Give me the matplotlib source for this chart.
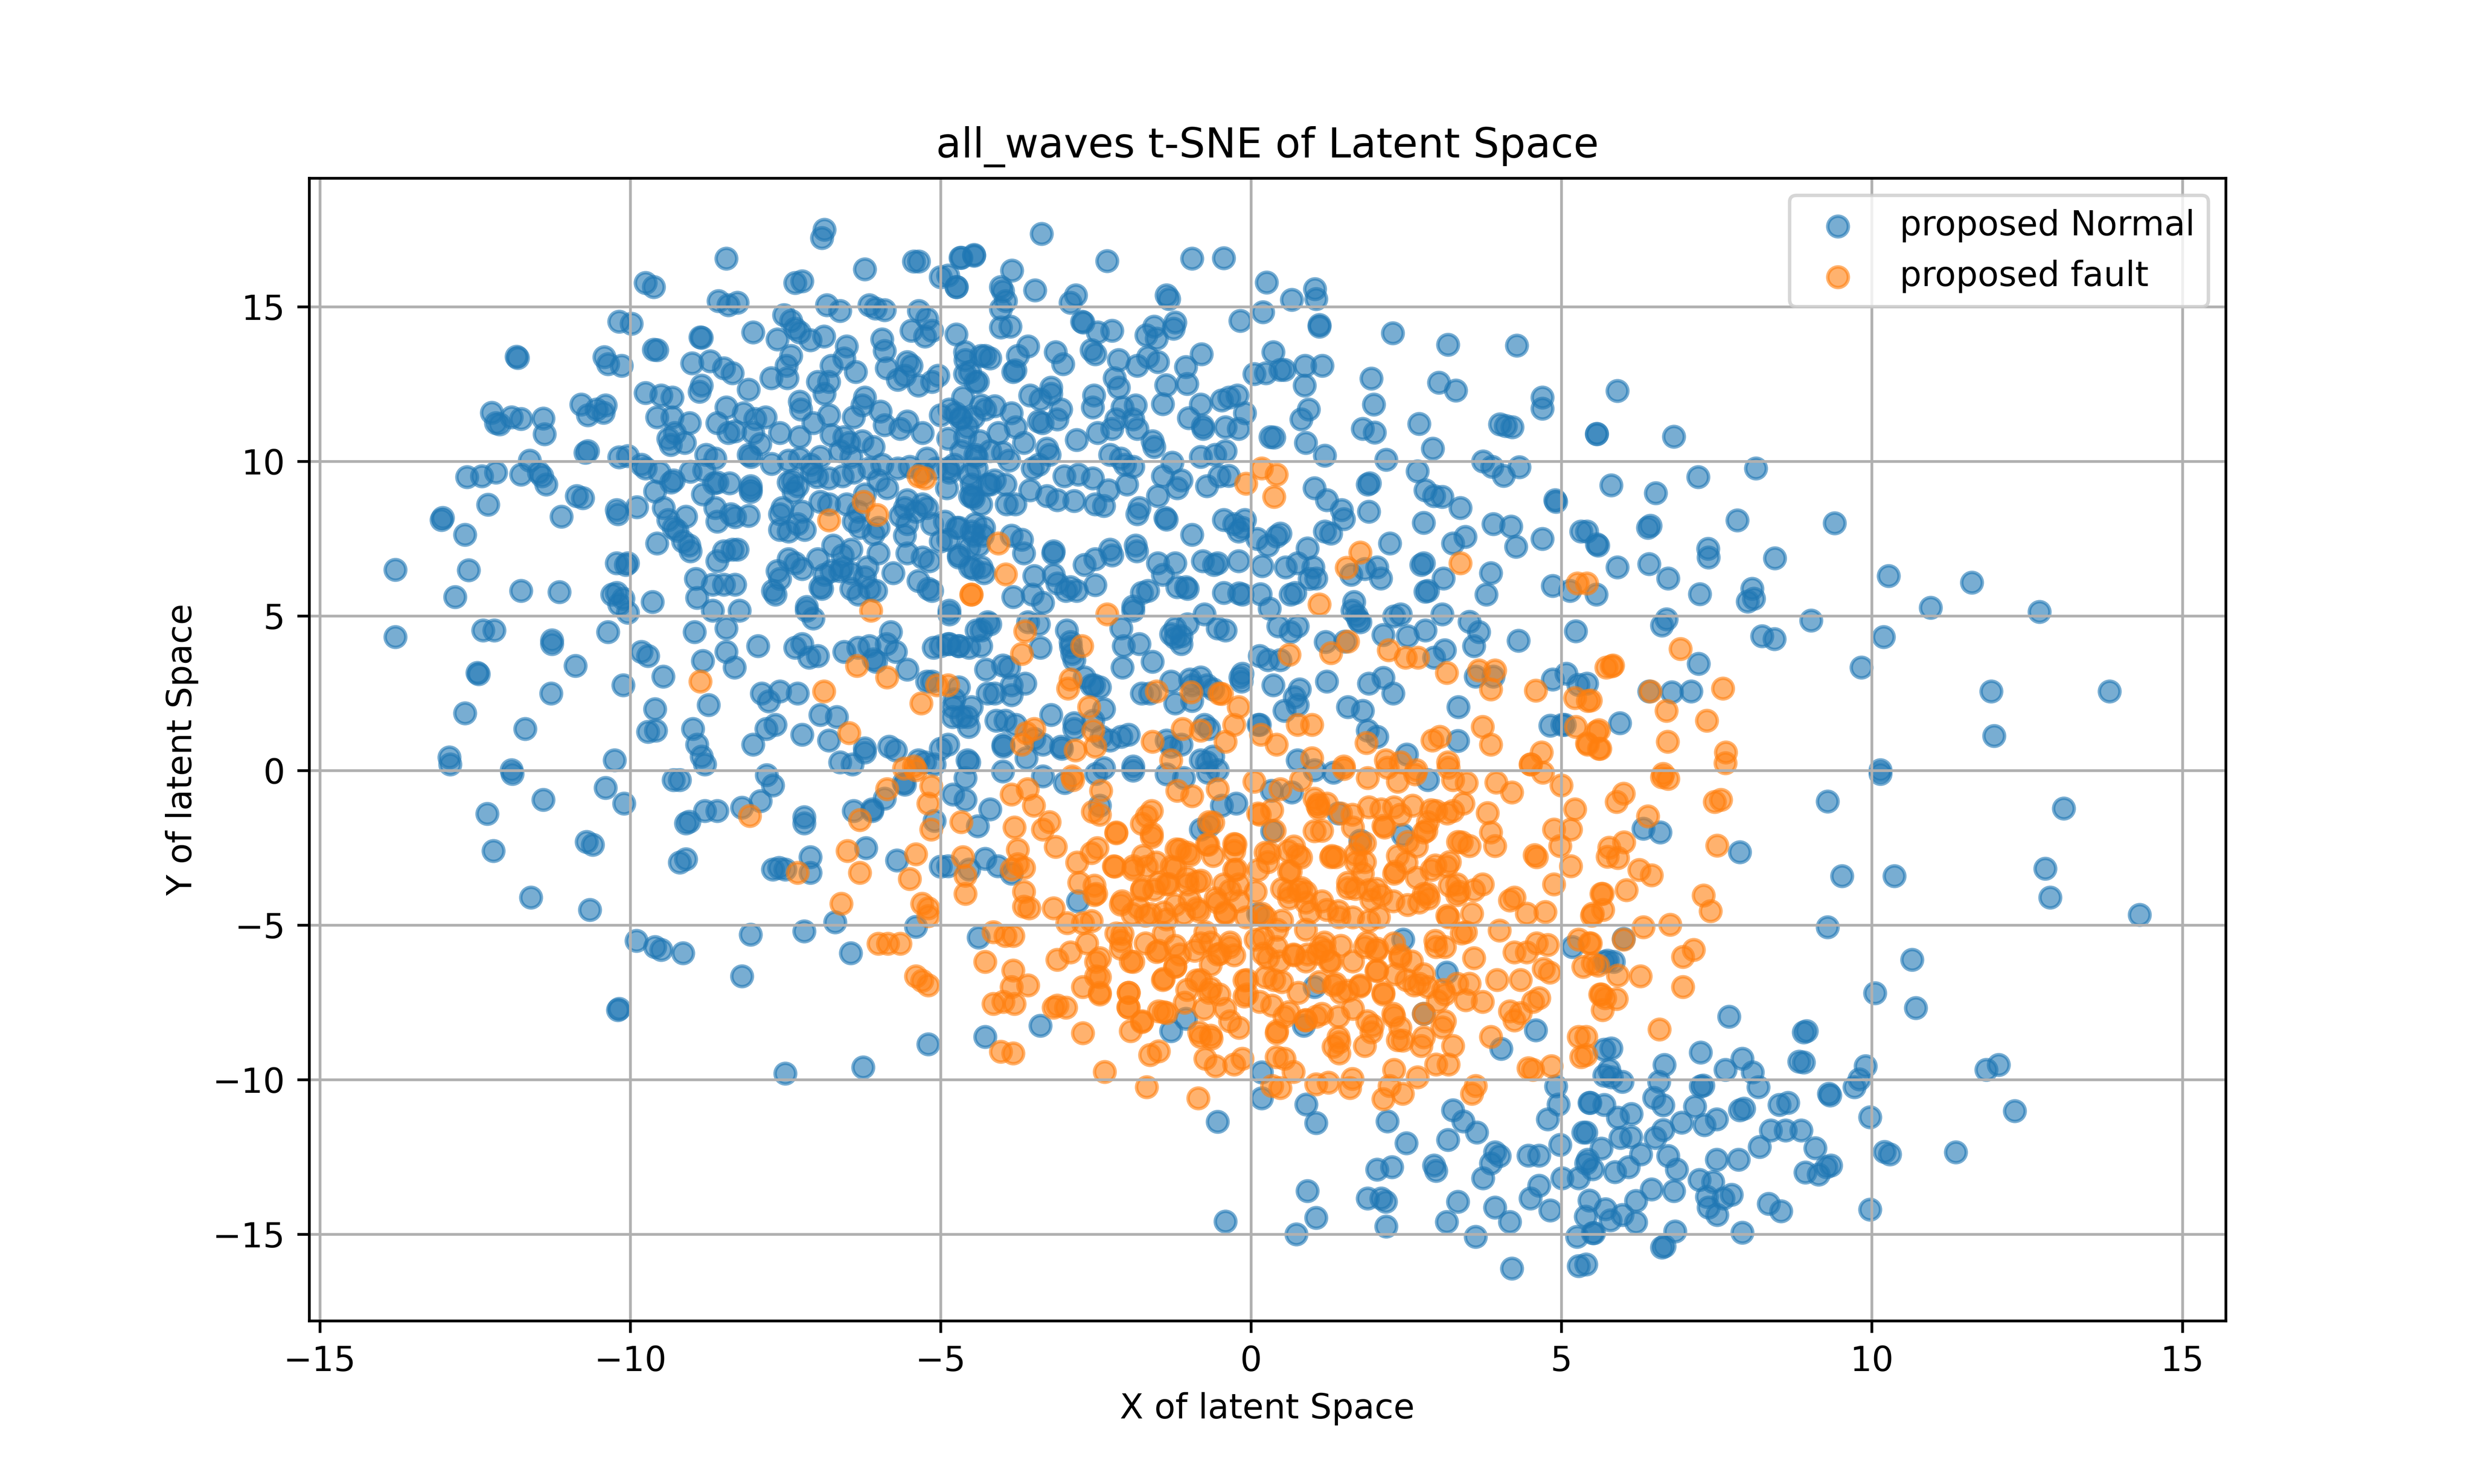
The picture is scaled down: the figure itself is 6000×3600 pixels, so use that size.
import numpy as np
import matplotlib
matplotlib.use('Agg')
import matplotlib.pyplot as plt

# t-SNE points, grouped by region of the plot
# "proposed Normal" (blue)
normal_upper_left = [
    (-6.87,17.49),(-6.91,17.23),(-8.45,16.56),(-9.75,15.77),(-9.62,15.64),(-7.23,15.83),(-7.34,15.77),
    (-6.22,16.21),(-5.43,16.47),(-5.35,16.47),(-5.0,15.96),(-4.75,15.64),(-4.68,16.59),(-4.46,16.68),
    (-8.58,15.19),(-8.42,15.06),(-8.27,15.13),(-10.18,14.52),(-9.98,14.45),(-6.83,15.06),(-6.62,14.87),
    (-6.15,15.06),(-5.9,14.9),(-6.05,14.95),(-5.35,14.87),(-5.47,14.23),(-5.14,14.23),(-5.25,14.04),
    (-4.75,14.11),(-5.22,14.62),(-7.52,14.74),(-7.41,14.55),(-7.34,14.3),(-7.27,14.17),(-8.02,14.17),
    (-7.63,13.95),(-7.1,13.92),(-6.88,14.04),(-5.94,13.95),(-5.9,13.57),(-5.87,13.02),(-8.87,14.02),
    (-8.85,14.0),(-10.42,13.37),(-10.36,13.15),(-10.14,13.09),(-11.83,13.38),(-11.81,13.35),(-9.62,13.62),
    (-9.57,13.6),(-9.0,13.18),(-8.71,13.24),(-8.49,13.02),(-8.35,12.86),(-7.41,13.41),(-7.48,13.09),
    (-7.73,12.7),(-7.47,12.7),(-6.51,13.72),(-6.55,13.34),(-6.37,12.9),(-6.76,13.09),(-6.98,12.58),
    (-6.8,12.58),(-6.87,12.19),(-8.09,12.32),(-5.54,13.21),(-5.47,13.1),(-5.58,12.77),(-5.69,12.64),
    (-5.36,12.45),(-5.04,12.77),(-5.14,12.58),(-4.6,13.28),(-4.53,12.9),(-4.44,12.58),(-4.28,13.41),
    (-8.88,12.26),(-8.85,12.45),(-9.75,12.22),(-9.5,12.13),(-9.32,12.07),(-10.79,11.84),(-10.54,11.68),
    (-10.4,11.81),(-10.43,11.58),(-10.68,11.49),(-12.23,11.58),(-12.16,11.24),(-11.91,11.43),(-11.76,11.37),
    (-11.4,11.39),(-11.38,10.88),(-12.1,11.2),(-9.57,11.43),(-9.32,11.43),(-9.04,11.24),(-9.28,10.92),
    (-9.39,10.73),(-9.35,10.54),(-9.12,10.6),(-8.6,11.24),(-8.45,11.75),(-8.17,11.56),(-7.99,11.37),
    (-7.82,11.43),(-8.31,10.98),(-8.42,10.92),(-8.02,10.92),(-7.91,10.56),(-7.59,10.92),(-7.27,11.94),
    (-7.25,11.68),(-7.05,11.24),(-6.8,11.49),(-6.76,10.85),(-6.55,10.79),(-6.4,11.43),(-6.26,11.81),
    (-6.22,12.07),(-5.97,11.62),(-5.9,11.17),(-5.65,11.05),(-5.54,11.3),(-5.29,10.92),(-5.0,11.49),
    (-4.86,11.68),(-4.68,11.37),(-4.57,11.11),(-4.35,11.81),(-6.47,10.6),(-6.26,10.66),(-6.08,10.47),
    (-6.62,10.34),(-6.44,10.15),(-7.27,10.79),(-7.27,10.09),(-7.09,9.9),(-6.94,10.15),(-7.45,10.03),
    (-8.09,10.22),(-8.05,10.15),(-8.78,10.22),(-8.63,10.09),(-10.04,10.18),(-10.18,10.13),(-10.72,10.28),
    (-10.68,10.33),(-9.82,9.9),(-9.75,9.77),(-9.53,9.64),(-9.3,9.39),(-9.03,9.67),(-8.81,9.71),(-8.6,9.32),
    (-8.4,9.29),(-8.06,9.2),(-8.06,9.01),(-7.72,9.92),(-7.45,9.32),(-7.38,9.38),(-7.3,9.2),(-7.07,9.64),
    (-6.99,9.49),(-6.8,9.45),(-6.58,9.52),(-6.4,9.64),(-6.15,9.77),(-5.94,9.9),(-5.69,9.77),(-5.5,9.83),
    (-5.29,9.64),(-5.07,9.77),(-4.86,9.64),(-4.78,9.9),(-4.42,10.15),(-4.42,9.77),(-5.22,10.09),(-4.5,9.26),
    (-4.24,9.26),(-12.63,9.49),(-12.39,9.52),(-12.16,9.64),(-11.76,9.58),(-11.62,10.03),(-11.47,9.64),
    (-11.42,9.52),(-11.35,9.26),
    (-13.04,8.11),(-13.02,8.17),(-12.66,7.63),(-12.29,8.6),(-12.6,6.48),(-13.78,6.49),(-13.78,4.32),
    (-12.82,5.62),(-11.76,5.82),(-11.14,5.78),(-12.37,4.54),(-12.19,4.54),(-11.26,4.22),(-11.26,4.1),
    (-12.46,3.16),(-12.44,3.12),(-10.88,3.39),(-11.27,2.5),(-12.66,1.86),(-11.69,1.35),(-12.91,0.43),
    (-11.91,0.01),(-11.11,8.21),(-10.86,8.88),(-10.76,8.81),(-10.22,8.43),(-10.2,8.3),(-9.89,8.52),
    (-9.6,9.03),(-9.34,9.32),(-9.46,8.49),(-9.39,8.11),(-9.1,8.21),(-9.24,7.76),(-9.15,7.41),(-9.3,7.85),
    (-9.57,7.35),(-9.03,7.09),(-9.05,7.28),(-8.83,8.94),(-8.65,9.3),(-8.63,8.49),(-8.6,8.05),(-8.38,8.3),
    (-8.31,8.2),(-8.09,8.24),(-8.06,9.1),(-8.6,6.77),(-8.49,7.09),(-8.35,7.15),(-8.27,7.15),(-10.22,6.71),
    (-10.07,6.65),(-10.04,6.71),(-10.29,5.69),(-10.22,5.75),(-10.11,5.56),(-10.18,5.37),(-10.04,5.11),
    (-9.64,5.46),(-10.36,4.48),(-9.82,3.84),(-9.71,3.71),(-9.47,3.04),(-10.11,2.76),(-9.6,1.99),
    (-9.71,1.26),(-9.59,1.29),(-10.25,0.33),(-8.94,6.2),(-8.92,5.59),(-8.67,6.01),(-8.49,6.01),(-8.31,6.01),
    (-8.67,5.18),(-8.24,5.18),(-8.45,4.6),(-8.96,4.48),(-8.83,3.55),(-8.45,3.84),(-8.32,3.33),(-7.94,4.03),
    (-7.88,2.5),(-7.77,2.24),(-7.59,2.56),(-7.3,2.5),(-8.74,2.12),(-8.99,1.35),(-8.92,0.84),(-8.85,0.46),
    (-8.02,0.84),(-7.81,1.35),(-7.66,1.48),(-7.23,1.16),(-6.94,1.8),(-6.67,1.73),(-6.8,0.97),(-6.62,0.27),
    (-6.42,0.2),(-6.22,0.59),(-6.22,0.72),(-5.83,0.78),(-5.72,0.65),(-5.0,0.71),(-4.57,0.33),(-5.36,0.33),
    (-5.25,0.27),(-4.57,1.73),(-4.78,2.31),(-4.71,2.69),(-4.8,2.05),(-6.55,3.84),(-6.33,3.97),(-6.15,4.03),
    (-6.08,3.6),(-6.04,3.52),(-5.54,3.27),(-5.22,2.88),(-5.14,2.88),(-5.11,3.97),(-5.0,4.03),(-4.86,4.1),
    (-4.71,4.03),(-4.35,4.03),(-4.42,4.54),(-4.24,4.8),(-4.86,5.18),(-4.86,5.05),(-4.24,2.5),(-5.72,3.84),
    (-5.87,4.09),(-5.8,4.48),(-5.2,5.88),(-5.14,5.82),(-5.36,6.13),(-5.76,6.39),(-6.04,5.82),(-6.15,5.88),
    (-6.22,6.26),(-6.33,5.69),(-6.44,6.39),(-6.58,6.58),(-6.62,6.45),(-6.44,5.88),(-6.76,6.45),(-6.87,6.33),
    (-7.16,5.18),(-7.05,4.92),(-6.94,5.94),(-6.91,5.88),(-7.16,5.3),(-7.34,3.97),(-7.23,4.09),(-7.12,3.65),
    (-6.98,3.71),(-7.45,6.84),(-7.59,6.2),(-7.7,5.82),(-7.66,5.69),(-7.63,6.45),(-7.34,6.71),(-7.23,6.52),
    (-6.98,6.84),(-6.44,7.15),(-6.73,7.28),(-6.58,6.96),(-6.0,7.03),(-6.18,6.58),(-5.58,7.6),(-5.54,7.03),
    (-5.29,6.9),(-5.18,6.77),(-5.0,7.41),(-4.71,6.96),(-4.53,6.58),(-4.39,7.28),(-4.32,7.6),(-4.5,7.73),
    (-4.71,7.86),(-4.93,8.05),(-5.22,8.49),(-5.29,8.62),(-5.54,8.75),(-5.58,8.49),(-5.65,8.24),(-5.4,8.37),
    (-5.54,7.98),(-5.14,7.98),(-4.9,9.13),(-4.53,8.88),(-4.35,8.62),(-6.94,8.69),(-6.8,8.62),(-6.51,8.62),
    (-6.33,8.37),(-6.4,8.05),(-6.3,7.86),(-6.08,7.66),(-6.0,7.86),(-6.22,8.94),(-6.0,9.39),(-5.86,9.13),
    (-7.37,9.01),(-7.23,8.37),(-7.19,7.79),(-7.3,7.98),(-7.59,8.3),(-7.55,8.49),(-7.45,7.73),(-7.59,7.79),
]

normal_upper_mid = [
    (-3.37,17.36),(-4.67,16.59),(-4.46,16.66),(-3.85,16.17),(-2.32,16.48),(-0.95,16.56),(-0.44,16.57),
    (-4.88,16.02),(-4.74,15.64),(-4.03,15.64),(-4.0,15.51),(-3.95,15.19),(-4.03,14.94),(-4.03,14.34),
    (-3.88,14.36),(-3.48,15.54),(-2.91,15.13),(-2.82,15.38),(-1.36,15.38),(-1.32,15.26),(-2.72,14.52),
    (-2.7,14.5),(-2.47,14.17),(-2.24,14.23),(-1.69,14.08),(-1.56,14.36),(-1.25,14.3),(-1.22,14.49),
    (-1.52,13.98),(-1.5,13.21),(-1.66,13.37),(-0.8,13.47),(-1.05,13.05),(-1.03,12.51),(-1.37,12.47),
    (-1.42,11.85),(-0.81,11.84),(-1.0,11.4),(-0.77,11.05),(-0.78,11.15),(-0.41,11.11),(-0.2,11.05),
    (-0.1,11.56),(-0.47,11.98),(-0.35,12.07),(-0.22,12.13),(-2.57,13.6),(-2.51,13.47),(-2.13,13.28),
    (-1.83,13.09),(-2.2,12.7),(-2.13,12.39),(-2.53,12.13),(-2.55,11.75),(-2.07,11.75),(-1.86,11.81),
    (-1.9,11.36),(-2.17,11.36),(-2.24,11.05),(-1.83,11.05),(-1.59,10.66),(-1.56,10.47),(-2.47,10.92),
    (-2.81,10.69),(-3.15,13.53),(-3.03,13.15),(-3.22,12.39),(-3.22,12.19),(-3.39,12.0),(-3.06,11.68),
    (-3.36,11.24),(-3.12,11.36),(-3.42,11.3),(-3.29,10.41),(-3.25,10.22),(-3.59,13.72),(-3.76,13.41),
    (-3.83,12.9),(-3.8,12.95),(-4.2,13.34),(-4.35,13.41),(-4.61,13.53),(-4.61,12.83),(-4.4,12.58),
    (-3.56,12.13),(-3.86,11.56),(-4.13,11.79),(-4.28,11.68),(-4.64,12.07),(-4.76,11.56),(-4.67,11.43),
    (-4.47,11.43),(-4.61,10.79),(-4.07,10.92),(-3.79,11.11),(-3.66,10.6),(-4.88,10.73),(-4.67,10.34),
    (-4.37,10.66),(-4.44,10.22),(-4.2,10.34),(-4.0,10.28),(-3.9,10.03),(-4.88,9.77),(-4.54,9.58),
    (-4.49,8.88),(-4.47,8.82),(-4.2,9.26),(-4.13,9.39),(-3.94,8.62),(-3.96,9.26),(-3.8,8.62),(-3.56,9.07),
    (-3.52,9.77),(-3.42,9.9),(-3.01,9.52),(-2.78,9.58),(-3.29,8.88),(-3.12,8.75),(-2.85,8.72),(-2.51,8.62),
    (-2.37,8.56),(-2.27,10.22),(-2.1,10.09),(-1.9,9.83),(-2.03,9.9),(-2.55,9.45),(-2.3,9.07),(-2.0,9.26),
    (-1.8,8.5),(-1.83,8.3),(-1.42,9.52),(-1.19,9.13),(-1.12,9.39),(-1.27,9.96),(-1.5,8.88),(-1.38,8.18),
    (-1.36,8.12),(-1.05,5.94),(-0.95,7.63),(-0.78,6.77),(-0.71,9.2),(-0.51,9.52),(-0.36,9.54),(-0.81,10.15),
    (-0.58,10.22),(-0.41,10.34),(-0.44,8.11),(-0.27,7.98),(-0.14,7.86),(-0.2,7.73),(-0.1,8.11),(-0.54,6.71),
    (-0.2,6.77),(-0.44,5.75),(-0.19,5.73),(-0.14,5.69),(-0.6,6.65),(-1.22,6.71),(-1.5,6.71),(-1.42,6.33),
    (-1.19,5.94),(-1.02,5.88),(-1.76,5.75),(-1.66,5.82),(-1.9,5.31),
    (-2.27,7.15),(-2.24,6.96),(-1.86,7.28),(-1.84,7.09),(-2.51,6.84),(-2.68,6.65),(-2.51,6.0),(-2.81,5.82),
    (-2.98,5.82),(-2.91,5.94),(-3.18,7.09),(-3.19,7.03),(-3.18,6.33),(-3.49,6.3),(-3.12,6.05),(-3.66,7.03),
    (-3.69,7.47),(-3.86,7.6),(-4.3,7.86),(-4.44,7.98),(-4.3,6.39),(-4.34,6.58),(-4.47,6.52),(-4.71,6.9),
    (-4.54,7.22),(-4.47,7.6),(-4.74,7.86),(-4.88,7.47),(-3.83,5.62),(-3.52,5.69),(-3.35,5.43),(-4.2,4.73),
    (-4.34,4.54),(-4.71,4.03),(-4.54,3.97),(-4.88,4.1),(-4.27,3.27),(-4.13,2.5),(-3.86,2.44),(-3.86,2.76),
    (-3.59,4.8),(-3.42,4.73),(-3.39,3.97),(-3.64,2.82),(-3.9,3.33),(-4.0,3.4),(-4.1,1.61),(-3.96,1.61),
    (-4.67,1.73),(-4.55,1.42),(-4.81,1.73),(-4.88,0.84),(-4.5,2.05),(-2.97,4.54),(-2.91,4.16),(-2.88,3.78),
    (-2.9,4.0),(-2.85,3.58),(-2.57,2.76),(-2.53,2.76),(-2.68,3.01),(-2.44,2.69),(-2.37,1.99),(-2.54,1.61),
    (-2.09,4.6),(-2.05,4.03),(-2.07,3.33),(-1.8,4.1),(-1.9,5.18),(-1.59,3.52),(-2.09,1.1),(-1.97,1.16),
    (-2.41,1.1),(-2.27,0.97),(-2.85,1.35),(-2.85,1.54),(-3.79,1.48),(-3.49,1.03),(-3.35,0.84),(-3.06,0.78),
    (-3.62,0.4),(-3.99,0.78),(-3.99,0.84),(-4.54,0.27),(-1.02,4.73),(-1.22,4.6),(-1.29,4.41),(-1.22,4.3),
    (-1.12,4.1),(-0.75,5.05),(-0.54,4.6),(-0.41,4.54),(-1.12,4.35),(-1.29,2.88),(-0.98,2.95),(-0.81,3.01),
    (-0.95,2.76),(-0.71,2.76),(-0.61,2.63),(-0.17,3.01),(-0.15,2.88),(-0.14,3.14),(-0.95,2.25),(-1.22,2.18),
    (-1.63,2.5),(-1.76,2.5),(-0.75,1.48),(-0.68,1.35),(-1.36,0.97),(-1.29,0.78),(-1.12,0.84),(-0.81,0.33),
    (-0.71,0.27),(-0.54,0.01),(-0.61,0.46),(-1.9,0.14),(-2.37,0.08),(-3.22,1.8),(-3.05,0.71),
    (0.25,15.79),(1.03,15.57),(1.05,15.26),(0.66,15.23),(0.19,14.83),(-0.17,14.55),(1.1,14.36),(1.1,14.42),
    (2.28,14.15),(3.17,13.78),(4.28,13.75),(0.36,13.53),(0.05,12.83),(0.24,12.86),(0.47,12.96),(0.54,12.96),
    (0.87,13.09),(1.15,13.09),(0.86,12.45),(1.94,12.68),(1.98,11.84),(3.03,12.55),(3.3,12.3),(4.69,12.07),
    (4.69,11.71),(5.57,10.88),(0.81,11.36),(0.93,11.68),(1.8,11.05),(1.99,10.94),(2.71,11.21),(4.01,11.2),
    (4.21,11.11),(4.1,11.15),(0.31,10.79),(0.37,10.77),(0.88,10.6),(1.19,10.19),(2.93,10.41),(2.18,10.06),
    (3.74,10.0),(3.88,9.83),(4.07,9.54),(4.32,9.82),(2.68,9.68),(2.81,9.07),(2.95,8.88),(3.08,8.85),
    (3.37,8.49),(1.02,9.13),(1.22,8.75),(1.46,8.43),(1.49,8.14),(1.88,9.26),(1.91,9.29),(1.9,8.37),
    (2.78,8.02),(3.9,7.98),(4.19,7.9),(4.9,8.75),(4.91,8.69),(5.32,7.73),(5.59,7.28),(3.45,7.56),(3.25,7.35),
    (4.27,7.24),(4.69,7.5),(4.86,5.98),(5.14,5.82),(3.86,6.39),(3.79,5.69),(3.1,6.22),(2.74,6.65),(2.78,6.71),
    (2.81,5.79),(2.85,5.82),(2.24,7.35),(1.83,6.52),(2.03,6.58),(2.09,6.22),(1.61,6.33),(1.29,7.67),
    (1.19,7.73),(0.91,7.19),(0.47,7.67),(0.41,7.58),(0.27,7.28),(0.1,7.5),(0.18,6.61),(0.56,6.58),(0.75,6.71),
    (0.94,6.2),(1.05,6.22),(1.0,6.58),(0.64,5.69),(0.71,5.75),(0.3,5.24),(0.15,5.71),(1.66,5.46),(1.73,4.86),
    (1.7,5.02),(2.3,4.99),(2.41,5.05),(2.81,4.54),(3.08,5.05),(3.52,4.82),(3.67,4.48),(4.31,4.2),(5.23,4.51),
    (5.56,5.69),(3.59,4.03),(3.62,3.04),(3.9,3.04),(4.86,2.95),(5.08,3.14),(5.27,2.78),(5.05,1.48),(2.13,3.0),
    (2.29,2.5),(2.52,4.35),(2.13,4.39),(1.51,4.18),(1.56,2.05),(1.8,1.93),(1.9,2.82),(1.22,2.88),(1.63,5.18),
    (1.76,4.8),(3.34,2.05),(3.12,3.9),(2.95,3.65),(0.78,2.63),(0.7,2.37),(0.75,2.12),(0.54,1.93),(0.36,2.76),
    (0.47,3.58),(0.27,3.58),(0.14,3.71),(0.44,4.67),(0.75,4.67),(0.64,4.48),(1.2,4.16),(2.03,1.1),(1.88,1.29),
    (2.51,0.52),(3.33,0.96),(0.75,0.33),(1.02,0.01),(0.14,1.48),(0.12,1.48),(4.82,1.45),(5.01,1.48),
]

normal_upper_right = [
    (5.9,12.28),(5.57,10.89),(6.81,10.8),(8.13,9.78),(7.2,9.5),(5.8,9.23),(6.52,8.98),(6.39,7.86),
    (6.43,7.92),(7.83,8.09),(9.4,8.0),(5.57,7.32),(7.36,7.18),(7.37,6.9),(8.44,6.87),(5.9,6.57),(6.41,6.68),
    (6.72,6.22),(7.23,5.71),(8.07,5.88),(8.0,5.47),(8.1,5.56),(10.27,6.3),(11.61,6.08),(10.95,5.27),
    (12.7,5.13),(9.02,4.86),(10.19,4.32),(8.23,4.35),(8.43,4.26),(6.69,4.89),(6.62,4.69),(9.83,3.33),
    (7.21,3.46),(11.92,2.56),(13.83,2.56),(11.97,1.12),(10.14,0.01),(6.78,2.53),(7.09,2.56),(6.41,2.56),
    (5.94,1.54),(5.41,7.73),(5.41,2.82),
]

normal_lower_left = [
    (-12.9,0.2),(-11.9,-0.1),(-12.3,-1.4),(-11.4,-0.95),(-12.2,-2.6),(-11.6,-4.1),(-10.65,-4.5),
    (-10.4,-0.56),(-10.1,-1.07),(-10.7,-2.3),(-10.6,-2.4),(-10.2,-7.75),(-10.18,-7.7),(-9.3,-0.3),
    (-9.2,-0.3),(-9.1,-1.7),(-9.05,-1.65),(-9.2,-2.97),(-9.1,-2.87),(-8.8,-1.3),(-8.6,-1.3),(-8.2,-1.2),
    (-7.9,-0.99),(-7.8,-0.14),(-7.7,-0.48),(-8.8,0.2),(-7.7,-3.2),(-7.6,-3.15),(-7.5,-3.2),(-7.1,-2.8),
    (-7.1,-3.3),(-7.2,-1.5),(-7.2,-1.7),(-9.9,-5.5),(-9.6,-5.7),(-9.5,-5.8),(-9.15,-5.9),(-8.06,-5.3),
    (-8.2,-6.65),(-7.2,-5.2),(-7.5,-9.8),(-6.7,-4.9),(-6.45,-5.9),(-6.25,-9.6),(-5.2,-8.85),(-6.4,-1.3),
    (-6.1,-1.3),(-6.1,-1.25),(-6.2,-2.5),(-5.9,-0.9),(-5.6,-0.4),(-5.58,-0.45),(-5.1,0.2),(-5.1,-1.63),
    (-5.7,-2.9),(-5.4,-5.05),(-5.0,-3.1),
]

normal_lower_mid = [
    (-4.6,-0.24),(-4.0,-0.02),(-3.35,-0.18),(-3.0,-0.4),(-2.5,-0.1),(-1.9,0.0),(-1.36,-0.12),(-1.08,-0.24),
    (-0.7,-0.06),(-0.24,-1.07),(-0.47,-1.13),(0.33,-0.65),(0.66,-0.71),(1.33,-0.06),(2.85,-0.3),(-4.8,-0.77),
    (-4.6,-0.95),(-4.4,-1.8),(-4.2,-1.25),(-2.44,-1.13),(-0.81,-1.9),(-0.68,-1.78),(0.34,-1.96),(2.44,-2.08),
    (1.76,-2.26),(-4.88,-3.09),(-4.54,-3.2),(-4.28,-2.85),(-4.08,-3.09),(-3.86,-3.33),(-2.79,-4.22),
    (-4.39,-5.4),(3.15,-6.53),(1.02,-7.0),(2.45,-5.46),(5.18,-5.7),(5.69,-6.18),(-1.05,-8.02),(-1.29,-8.43),
    (-4.28,-8.61),(-3.39,-8.25),(0.85,-8.25),(4.03,-9.0),(4.59,-8.4),(0.17,-9.76),(0.17,-10.6),(-0.54,-11.36),
    (0.89,-10.8),(1.05,-11.4),(2.2,-11.35),(2.5,-12.05),(2.03,-12.9),(2.27,-12.83),(2.95,-12.77),(2.98,-12.95),
    (3.25,-10.99),(3.42,-11.34),(3.64,-11.7),(3.17,-11.94),(3.93,-12.35),(4.0,-12.47),(3.86,-12.71),
    (3.74,-13.18),(4.47,-12.45),(4.64,-12.45),(4.91,-10.21),(4.95,-10.8),(4.78,-11.28),(4.98,-12.11),
    (5.01,-13.18),(5.35,-11.7),(5.42,-12.59),(5.28,-13.18),(5.45,-10.75),(5.69,-9.02),(5.69,-9.86),
    (4.64,-13.42),(4.5,-13.84),(4.82,-14.23),(3.93,-14.13),(4.17,-14.6),(3.33,-13.95),(3.15,-14.6),
    (3.62,-15.08),(4.2,-16.1),(5.28,-16.03),(5.25,-15.08),(5.52,-14.96),(5.39,-14.43),(5.45,-13.9),
    (0.91,-13.6),(1.05,-14.47),(0.73,-15.0),(-0.41,-14.58),(1.88,-13.84),(2.1,-13.84),(2.17,-13.95),
    (2.18,-14.75),(1.41,-1.38),(0.11,-4.64),(2.78,-7.86),
]

normal_lower_right = [
    (10.14,-0.1),(9.29,-1.0),(13.09,-1.22),(6.32,-1.88),(6.59,-2.0),(7.87,-2.64),(9.52,-3.41),(10.36,-3.41),
    (12.79,-3.17),(12.87,-4.1),(14.31,-4.66),(9.29,-5.07),(6.0,-5.44),(5.74,-6.14),(5.84,-6.18),
    (10.65,-6.12),(10.05,-7.2),(10.71,-7.68),(7.7,-7.96),(8.9,-8.46),(8.95,-8.43),(5.8,-8.98),(7.24,-9.12),
    (6.66,-9.52),(7.64,-9.68),(7.91,-9.32),(8.08,-9.76),(8.17,-10.24),(5.77,-9.68),(5.81,-9.92),
    (5.98,-10.07),(6.57,-10.07),(6.49,-10.59),(6.64,-10.83),(7.24,-10.21),(7.28,-10.19),(7.15,-10.87),
    (8.83,-9.41),(8.9,-9.44),(9.9,-9.56),(9.8,-9.98),(9.72,-10.24),(9.31,-10.45),(9.33,-10.51),
    (11.84,-9.68),(12.04,-9.52),(12.3,-11.01),(9.97,-11.21),(11.35,-12.35),(10.2,-12.33),(10.29,-12.41),
    (9.97,-14.2),(5.46,-10.75),(5.69,-10.81),(5.91,-11.22),(6.13,-11.1),(5.4,-11.7),(5.95,-11.88),
    (6.12,-11.85),(6.51,-11.88),(6.64,-11.62),(6.94,-11.38),(7.3,-11.46),(7.5,-11.28),(7.87,-10.99),
    (7.94,-10.93),(8.51,-10.81),(8.65,-10.75),(8.37,-11.64),(8.61,-11.64),(8.86,-11.64),(8.19,-12.17),
    (9.09,-12.21),(5.64,-12.23),(6.28,-12.41),(6.72,-12.47),(7.5,-12.59),(7.85,-12.59),(9.27,-12.83),
    (9.34,-12.77),(8.93,-13.0),(9.14,-13.06),(5.4,-12.71),(5.5,-12.89),(5.86,-12.98),(6.08,-12.83),
    (6.86,-12.91),(7.22,-13.24),(7.44,-13.3),(6.45,-13.54),(6.81,-13.6),(6.2,-13.92),(5.71,-14.19),
    (5.98,-14.37),(6.2,-14.61),(5.79,-14.55),(7.34,-13.78),(7.74,-13.72),(7.61,-13.84),(7.37,-14.13),
    (7.51,-14.37),(8.34,-14.01),(8.54,-14.25),(7.91,-14.94),(6.83,-14.9),(6.62,-15.42),(6.66,-15.38),
    (5.5,-14.96),(5.4,-15.97),
]

# "proposed fault" (orange)
fault_upper = [
    (-5.36,9.52),(-5.25,9.45),(-6.24,8.69),(-6.02,8.27),(-6.8,8.09),(-4.51,5.69),(-6.12,5.18),(-8.87,2.88),
    (-6.35,3.39),(-5.86,3.01),(-6.88,2.56),(-5.06,2.76),(-5.31,2.18),(-6.47,1.22),(-5.43,0.13),(-5.59,0.07),
    (-4.07,7.35),(-3.95,6.35),(-4.5,5.69),(-2.32,5.05),(-3.64,4.51),(-3.69,3.78),(-2.72,4.03),(-2.91,2.95),
    (-2.95,2.65),(-2.61,2.05),(-2.54,1.29),(-3.49,1.35),(-3.62,1.22),(-3.69,0.84),(-2.83,0.65),(-2.51,0.78),
    (-1.52,2.56),(-0.96,2.53),(-0.51,2.5),(-0.47,2.48),(-0.2,2.05),(-0.27,1.48),(-0.41,0.94),(-0.81,1.29),
    (-1.1,1.35),(-1.59,0.93),(-1.29,0.33),(-4.88,2.76),(-2.88,-0.18),
    (0.17,9.77),(0.41,9.58),(-0.08,9.28),(0.37,8.85),(1.76,7.05),(1.54,6.56),(1.1,5.37),(3.37,6.71),
    (5.26,6.05),(5.72,3.33),(3.93,3.24),(3.67,3.24),(3.86,2.63),(4.59,2.59),(5.22,2.35),(5.42,2.25),
    (5.23,1.42),(5.56,1.25),(5.42,0.84),(5.62,0.71),(4.51,0.2),(4.68,0.59),(3.73,1.42),(3.86,0.84),
    (3.17,0.27),(3.04,1.1),(2.92,0.97),(2.49,3.65),(2.69,3.65),(2.22,3.9),(3.15,3.16),(1.56,4.18),(1.29,3.8),
    (0.62,3.75),(0.75,1.48),(0.98,1.48),(0.16,1.16),(0.41,0.84),(1.86,0.9),(2.17,0.33),(2.41,0.27),
    (2.66,0.01),(1.49,0.14),(0.98,0.4),
    (6.92,3.93),(5.81,3.37),(5.83,3.4),(6.43,2.56),(7.6,2.65),(6.69,1.93),(7.34,1.61),(5.47,2.27),(5.6,1.31),
    (5.41,0.88),(5.6,0.71),(6.71,0.93),(7.65,0.59),(6.64,-0.1),(5.41,6.05),
]

fault_lower_left = [
    (-8.07,-1.46),(-7.3,-3.3),(-6.3,-1.6),(-6.5,-2.6),(-6.3,-3.3),(-6.6,-4.3),(-5.86,-0.6),(-5.4,0.02),
    (-5.15,-0.5),(-5.2,-1.07),(-5.15,-1.9),(-5.4,-2.7),(-5.5,-3.5),(-5.3,-4.3),(-5.2,-4.45),(-5.2,-4.7),
    (-6.0,-5.6),(-5.85,-5.6),(-5.65,-5.6),(-5.4,-6.65),(-5.3,-6.8),(-5.2,-6.95),
]

fault_lower_mid = [
    (-2.87,-0.3),(-2.42,-0.65),(-1.19,-0.65),(-0.95,-0.83),(-0.54,-0.6),(0.05,-0.36),(0.47,-0.6),(0.8,-0.3),
    (1.02,-0.9),(1.49,0.06),(1.88,-0.24),(2.2,0.1),(2.36,-0.36),(2.64,-0.12),(3.18,0.1),(3.25,-0.3),
    (3.47,-0.4),(3.95,-0.38),(4.2,-0.71),(4.5,0.2),(4.7,-0.06),(5.0,-0.48),(-3.86,-0.77),(-3.6,-0.6),
    (-3.5,-1.13),(1.08,-1.07),
    (-4.67,-1.66),(-3.81,-1.84),(-3.25,-1.66),(-3.35,-1.9),(-3.15,-2.47),(-2.44,-1.43),(-2.17,-2.0),
    (-1.76,-1.72),(-1.6,-1.31),(-1.6,-2.14),(-0.68,-1.66),(-0.71,-2.38),(-0.25,-2.38),(0.14,-1.43),
    (0.3,-2.67),(0.6,-2.6),(1.07,-1.13),(1.22,-1.07),(1.02,-1.96),(1.63,-1.43),(1.9,-1.19),(2.1,-1.25),
    (2.3,-1.19),(2.6,-1.13),(2.98,-1.31),(2.78,-2.0),(2.85,-1.66),(3.25,-1.31),(3.42,-1.07),(3.81,-1.37),
    (3.86,-2.0),(3.93,-2.44),(3.39,-2.32),(3.52,-2.44),(2.15,-1.84),(4.88,-1.9),(5.15,-1.9),(5.22,-1.25),
    (4.98,-2.44),(4.57,-2.73),(1.76,-2.38),(1.36,-2.8),(0.75,-2.73),(-1.15,-2.56),(-0.98,-2.73),
    (-0.27,-2.6),(-3.76,-2.56),
    (-4.64,-2.8),(-4.6,-3.4),(-4.6,-3.98),(-3.76,-3.03),(-3.66,-3.15),(-3.86,-3.2),(-3.66,-3.92),
    (-3.66,-4.4),(-3.57,-4.45),(-3.18,-4.45),(-2.8,-2.97),(-2.77,-3.62),(-2.57,-2.67),(-2.5,-3.98),
    (-2.2,-3.1),(-2.1,-4.33),(-1.9,-3.2),(-1.76,-3.86),(-1.53,-2.97),(-1.36,-3.68),(-1.22,-3.15),
    (-1.02,-3.68),(-0.81,-3.56),(-0.54,-4.27),(-0.44,-3.68),(-0.24,-3.2),(-0.2,-3.68),(0.07,-3.92),
    (0.17,-4.63),(0.61,-3.92),(0.81,-3.8),(0.88,-4.27),(0.64,-3.27),(1.29,-2.8),(1.56,-3.8),(1.69,-2.97),
    (1.8,-3.33),(1.9,-3.86),(2.1,-4.04),(2.3,-3.33),(2.5,-2.97),(2.71,-4.27),(2.85,-3.98),(2.91,-3.21),
    (3.15,-3.09),(3.32,-3.68),(3.35,-3.92),(3.59,-3.86),(3.73,-3.68),(3.18,-4.75),(3.56,-4.63),(4.17,-4.2),
    (4.24,-4.1),(4.44,-4.63),(4.74,-4.57),(4.88,-3.68),(5.15,-3.09),(4.6,-2.8),(5.66,-3.98),(5.49,-4.69),
    (1.42,-4.75),(1.9,-4.87),(1.22,-4.51),(-0.88,-4.45),(-1.08,-4.63),(-1.7,-4.69),(-1.36,-4.81),
    (-2.57,-4.87),(-2.71,-4.93),(-2.96,-4.93),(-0.41,-4.63),
    (-4.15,-5.23),(-3.96,-5.34),(-3.83,-5.34),(-4.28,-6.18),(-3.83,-6.47),(-3.86,-7.0),(-3.59,-6.95),
    (-3.12,-6.12),(-2.91,-5.88),(-2.64,-5.58),(-2.5,-6.18),(-2.5,-6.65),(-2.71,-7.0),(-2.44,-7.24),
    (-2.1,-5.76),(-2.07,-5.28),(-1.9,-6.18),(-1.97,-7.18),(-1.7,-5.58),(-1.49,-5.82),(-1.42,-6.77),
    (-1.22,-6.35),(-1.15,-5.94),(-0.81,-5.58),(-0.74,-5.23),(-0.54,-5.94),(-0.81,-6.77),(-0.68,-7.18),
    (-0.51,-7.24),(-0.34,-5.7),(-0.07,-6.77),(0.07,-5.46),(0.27,-6.06),(0.37,-6.77),(0.41,-5.7),(0.68,-5.94),
    (0.91,-5.94),(1.12,-5.7),(1.19,-5.82),(1.29,-6.18),(1.36,-6.89),(1.56,-7.12),(1.76,-6.95),(1.83,-5.7),
    (2.03,-5.76),(2.13,-7.24),(2.03,-6.47),(2.3,-5.58),(2.4,-6.06),(2.5,-6.77),(2.71,-6.89),(2.78,-6.59),
    (2.98,-5.7),(3.12,-5.7),(3.32,-6.89),(3.52,-6.89),(3.59,-6.06),(3.46,-5.23),(3.73,-7.48),(3.96,-6.77),
    (4.0,-5.17),(4.24,-5.88),(4.34,-6.77),(4.44,-5.88),(4.6,-5.58),(4.78,-5.64),(4.71,-6.41),(4.81,-6.53),
    (5.28,-5.46),(5.45,-5.58),(5.35,-6.35),(5.59,-6.3),(5.62,-7.24),(4.64,-7.36),(4.17,-7.78),(4.34,-7.84),
    (3.46,-7.42),(3.12,-7.24),(2.85,-7.0),(1.05,-7.96),(0.88,-8.08),(0.54,-7.96),(0.14,-7.48),(-0.07,-7.24),
    (-1.36,-7.84),(-1.49,-7.78),(-3.12,-7.6),(-2.98,-7.66),(-3.18,-7.66),(-4.15,-7.54),(-3.99,-7.48),
    (-3.81,-7.54),(-1.97,-7.66),(-1.76,-8.13),
    (-2.71,-8.49),(-3.83,-9.14),(-4.03,-9.09),(-2.36,-9.74),(-1.68,-10.24),(-0.85,-10.6),(-1.63,-9.2),
    (-1.49,-9.08),(-0.81,-8.61),(-0.64,-8.67),(-0.74,-9.32),(-0.57,-9.56),(-0.27,-9.5),(-0.14,-9.32),
    (0.41,-8.49),(0.41,-9.26),(0.54,-9.32),(0.68,-9.74),(0.34,-10.2),(0.47,-10.26),(1.05,-10.15),
    (1.25,-10.09),(1.59,-10.26),(1.63,-9.97),(1.42,-9.14),(1.42,-8.79),(1.83,-8.91),(1.96,-8.25),(2.3,-7.96),
    (2.44,-8.73),(2.74,-8.91),(2.3,-9.68),(2.23,-10.2),(2.44,-10.45),(2.13,-10.63),(2.68,-9.92),(3.08,-8.31),
    (3.25,-8.91),(2.98,-9.5),(3.18,-9.5),(3.62,-10.2),(3.56,-10.45),(3.86,-8.61),(4.47,-9.62),(4.54,-9.68),
    (4.84,-9.56),(5.28,-8.61),(5.32,-9.26),(4.24,-8.08),(4.54,-7.48),
]

# dense core of the fault cluster, read from a close-up
fault_core = [
    (-2.55,-1.33),(-2.17,-2.02),(-1.68,-1.48),(-1.6,-2.04),(-2.48,-2.5),(-2.21,-3.09),(-2.52,-3.72),
    (-2.52,-4.03),(-1.89,-3.09),(-1.68,-3.11),(-1.74,-2.76),(-1.2,-2.55),(-1.03,-2.65),(-0.69,-2.4),
    (-0.61,-1.68),(-0.27,-2.37),(-0.61,-2.76),(-0.27,-3.21),(-1.75,-3.83),(-1.56,-3.85),(-1.33,-3.67),
    (-0.88,-3.6),(-1.03,-3.47),(-0.34,-3.88),(-2.08,-4.23),(-1.81,-4.44),(-1.62,-4.64),(-1.41,-4.59),
    (-1.22,-4.34),(-0.99,-4.18),(-0.84,-4.54),(-0.57,-4.13),(-0.42,-4.59),(-0.19,-4.23),(-0.08,-4.74),
    (-1.91,-4.64),(-1.28,-3.11),(-1.49,-3.62),
    (0.11,-1.38),(0.38,-1.94),(0.34,-1.28),(1.09,-1.22),(1.14,-1.94),(1.45,-1.38),(1.64,-1.84),
    (1.83,-2.35),(2.13,-1.79),(2.4,-1.43),(2.52,-2.3),(2.82,-1.94),(2.9,-1.28),(3.16,-1.38),(3.33,-2.3),
    (0.23,-2.65),(0.27,-2.96),(0.69,-2.45),(0.8,-2.81),(1.3,-2.76),(1.68,-2.7),(1.83,-2.96),(2.36,-2.76),
    (2.67,-2.45),(2.97,-3.06),(3.2,-2.96),(0.11,-3.21),(0.61,-3.27),(0.5,-3.83),(0.76,-3.88),(0.88,-3.93),
    (0.61,-4.13),(1.56,-3.62),(1.68,-3.83),(2.02,-3.83),(2.32,-3.27),(2.67,-3.47),(2.78,-3.98),(2.86,-4.13),
    (3.2,-3.72),(3.32,-4.03),(0.23,-4.74),(0.5,-4.85),(0.95,-4.59),(1.14,-4.23),(1.41,-4.54),(1.64,-4.74),
    (2.06,-4.74),(2.29,-4.23),(2.52,-4.34),(3.16,-4.69),(1.94,-4.18),
    (-2.17,-5.26),(-2.1,-5.51),(-2.44,-6.07),(-2.44,-6.68),(-2.44,-7.19),(-1.94,-6.17),(-1.52,-5.87),
    (-1.41,-5.26),(-1.22,-5.66),(-0.91,-5.82),(-0.65,-5.56),(-0.34,-5.56),(-0.5,-5.92),(-0.65,-6.28),
    (-0.27,-5.97),(-1.41,-6.73),(-1.22,-6.33),(-0.88,-6.79),(-0.65,-7.04),(-1.03,-7.09),(-1.97,-7.19),
    (-1.98,-7.65),(-1.75,-8.11),(-1.94,-8.42),(-1.41,-7.81),(-1.07,-7.5),(-0.76,-7.7),(-0.42,-7.7),
    (-0.34,-8.11),(-0.84,-8.47),(-0.65,-8.57),(-0.19,-8.32),(-0.11,-6.79),(-0.11,-7.3),
    (0.19,-5.41),(0.42,-5.15),(0.88,-5.15),(1.18,-5.56),(1.45,-5.66),(1.87,-5.56),(2.02,-5.82),(2.4,-5.97),
    (2.59,-6.17),(2.97,-5.51),(3.39,-5.26),(0.19,-5.92),(0.46,-6.17),(0.69,-5.97),(0.88,-6.17),(1.07,-5.92),
    (1.26,-6.17),(1.64,-6.17),(2.02,-6.48),(2.32,-6.58),(2.63,-6.94),(3.09,-7.09),(0.23,-6.68),(0.5,-6.84),
    (0.76,-7.19),(1.1,-6.84),(1.33,-6.94),(1.45,-7.19),(1.75,-6.99),(2.13,-7.19),(0.34,-7.6),(0.61,-7.81),
    (0.88,-8.06),(1.14,-7.86),(1.41,-7.96),(1.64,-7.7),(1.87,-8.11),(2.29,-7.86),(2.78,-7.86),(3.12,-8.11),
    (3.01,-7.45),(0.42,-8.42),(1.41,-8.62),(1.94,-8.47),(2.4,-8.32),(2.78,-8.62),(2.36,-8.72),(1.33,-8.93),
]

fault_lower_right = [
    (6.62,-0.21),(6.72,-0.26),(6.0,-0.75),(5.89,-1.01),(7.47,-1.01),(7.57,-0.95),(6.39,-1.48),(6.01,-2.32),
    (5.77,-2.49),(5.74,-2.79),(5.91,-2.83),(6.25,-3.21),(6.45,-3.38),(7.51,-2.43),(6.05,-3.86),(5.64,-3.98),
    (5.67,-4.51),(5.5,-4.63),(7.29,-4.04),(7.4,-4.54),(6.32,-5.07),(6.75,-4.99),(5.47,-5.58),(6.0,-5.46),
    (6.96,-6.03),(7.13,-5.8),(5.5,-6.24),(5.91,-6.63),(6.27,-6.65),(6.96,-7.0),(5.64,-7.24),(5.7,-7.36),
    (5.89,-7.38),(5.66,-7.74),(6.58,-8.37),(5.4,-8.61),(5.4,-9.2),(7.64,0.24),
]

normal = np.array(normal_upper_left + normal_upper_mid + normal_upper_right
                  + normal_lower_left + normal_lower_mid + normal_lower_right)
fault = np.array(fault_upper + fault_lower_left + fault_lower_mid + fault_core + fault_lower_right)

fig, ax = plt.subplots(figsize=(10, 6), dpi=600)
ax.scatter(normal[:, 0], normal[:, 1], alpha=0.6, label='proposed Normal')
ax.scatter(fault[:, 0], fault[:, 1], alpha=0.6, label='proposed fault')
ax.set_xlim(-15.17, 15.7)
ax.set_ylim(-17.8, 19.16)
ax.set_title('all_waves t-SNE of Latent Space')
ax.set_xlabel('X of latent Space')
ax.set_ylabel('Y of latent Space')
ax.legend(loc='upper right')
ax.grid(True)
fig.savefig('out.png', dpi=600)
